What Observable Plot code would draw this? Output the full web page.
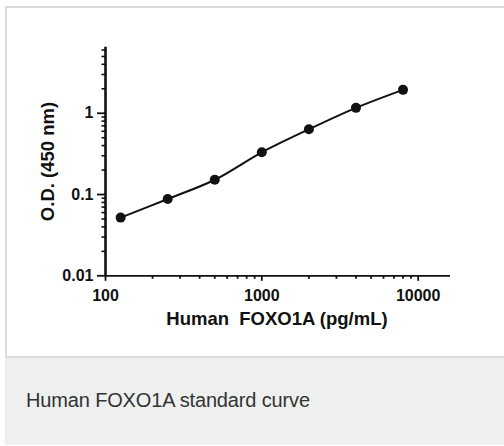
<!DOCTYPE html>
<html>
<head>
<meta charset="utf-8">
<script src="https://cdn.jsdelivr.net/npm/d3@7"></script>
<script src="https://cdn.jsdelivr.net/npm/@observablehq/plot@0.6"></script>
<style>
  html, body { margin: 0; padding: 0; background: #fff; }
  #page { position: relative; width: 504px; height: 446px; overflow: hidden; font-family: "Liberation Sans", Arial, sans-serif; }
  #card { position: absolute; left: 5px; top: 6px; width: 520px; height: 348px; background: #fff;
          border-top: 2px solid #dcdcdc; border-left: 2px solid #dcdcdc; border-bottom: 2px solid #dcdcdc; }
  #foot { position: absolute; left: 5px; top: 358px; width: 520px; height: 87px; background: #eef0ef; }
  #caption { position: absolute; left: 26px; top: 390px; font-size: 20px; line-height: 20px; color: #333;
             letter-spacing: -0.15px; white-space: nowrap; }
  #chart { position: absolute; left: 0; top: 0; }
</style>
</head>
<body>
<div id="page">
  <div id="card"></div>
  <div id="foot"></div>
  <div id="caption">Human FOXO1A standard curve</div>
  <div id="chart"></div>
</div>
<script>
// Data
const concentration = [125, 250, 500, 1000, 2000, 4000, 8000];
const od = [0.052, 0.088, 0.152, 0.331, 0.635, 1.165, 1.94];
const xMajorTicks = [100, 1000, 10000];
const xMinorTicks = [200, 300, 400, 500, 600, 700, 800, 900, 2000, 3000, 4000, 5000, 6000, 7000, 8000, 9000];
const yMajorTicks = [0.01, 0.1, 1];
const yMinorTicks = [0.02, 0.03, 0.04, 0.05, 0.06, 0.07, 0.08, 0.09, 0.2, 0.3, 0.4, 0.5, 0.6, 0.7, 0.8, 0.9, 2, 3, 4, 5, 6];
const xTitle = "Human  FOXO1A (pg/mL)";
const yTitle = "O.D. (450 nm)";

const data = concentration.map((c, i) => ({c, od: od[i]}));
const ink = "#111";

const chart = Plot.plot({
  width: 504,
  height: 356,
  marginLeft: 105,
  marginRight: 54,
  marginTop: 46.7,
  marginBottom: 80.7,
  style: {background: "transparent", fontFamily: "Liberation Sans, Arial, sans-serif", color: ink},
  x: {type: "log", domain: [100, 16100], axis: null},
  y: {type: "log", domain: [0.01, 6.5], axis: null},
  marks: [
    Plot.axisX(xMinorTicks, {tickSize: 3.5, strokeWidth: 1.8, tickFormat: () => "", stroke: ink, label: null}),
    Plot.axisX(xMajorTicks, {tickSize: 5.5, strokeWidth: 1.8, tickPadding: 8.5, tickFormat: d => String(d),
      fontSize: 16, fontWeight: "bold", fill: ink, stroke: ink, label: null}),
    Plot.axisY(yMinorTicks, {tickSize: 3.5, strokeWidth: 1.6, tickFormat: () => "", stroke: ink, label: null}),
    Plot.axisY(yMajorTicks, {tickSize: 8, strokeWidth: 1.8, tickPadding: 4, tickFormat: d => String(d),
      fontSize: 16, fontWeight: "bold", fill: ink, stroke: ink, label: null}),
    Plot.ruleY([0.01], {stroke: ink, strokeWidth: 1.8}),
    Plot.ruleX([100], {stroke: ink, strokeWidth: 2.6}),
    Plot.line(data, {x: "c", y: "od", curve: "catmull-rom", stroke: ink, strokeWidth: 2}),
    Plot.dot(data, {x: "c", y: "od", r: 5, fill: ink, stroke: "none"}),
    Plot.text([xTitle], {frameAnchor: "bottom", dy: 49.5, fontSize: 18.5, fontWeight: "bold", fill: ink, lineAnchor: "bottom", dx: -1}),
    Plot.text([yTitle], {frameAnchor: "left", dx: -52, dy: 0, rotate: -90, textAnchor: "middle", fontSize: 18.5, fontWeight: "bold", fill: ink, lineAnchor: "bottom"})
  ]
});
document.getElementById("chart").appendChild(chart);
</script>
</body>
</html>
